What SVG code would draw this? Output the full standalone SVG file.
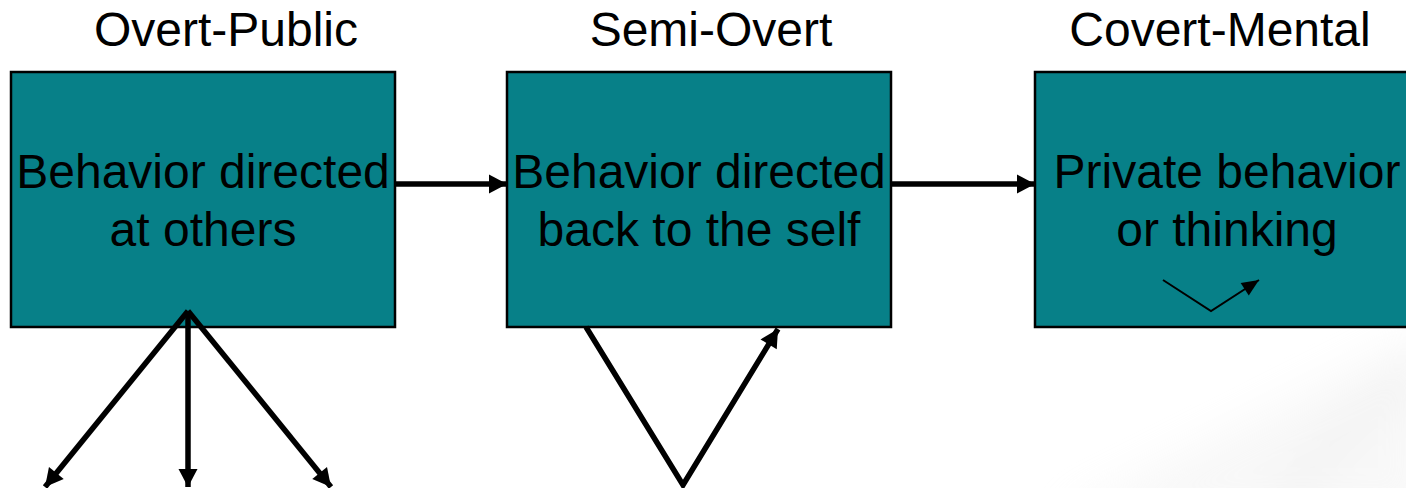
<svg xmlns="http://www.w3.org/2000/svg" width="1406" height="488" viewBox="0 0 1406 488">
  <style>
    .box { fill: #078088; stroke: #000; stroke-width: 2.5; }
    .label { font-family: "Liberation Sans", Arial, sans-serif; font-size: 48px; fill: #000; text-anchor: middle; }
    .thick { fill: none; stroke: #000; stroke-width: 5.5; stroke-linejoin: miter; }
    .thin { fill: none; stroke: #000; stroke-width: 2; }
  </style>
  <defs>
    <marker id="headBig" markerUnits="userSpaceOnUse" markerWidth="22" markerHeight="22" viewBox="0 0 22 22" refX="19" refY="11" orient="auto">
      <path d="M1,1.5 L19,11 L1,20.5 Z" fill="#000"/>
    </marker>
    <marker id="headSmall" markerUnits="userSpaceOnUse" markerWidth="20" markerHeight="20" viewBox="0 0 20 20" refX="18" refY="10" orient="auto">
      <path d="M1,2.5 L18,10 L1,17.5 Z" fill="#000"/>
    </marker>
    <filter id="soft" x="-50%" y="-50%" width="200%" height="200%">
      <feGaussianBlur stdDeviation="22"/>
    </filter>
  </defs>

  <!-- page background with faint swirl in the lower right -->
  <rect x="0" y="0" width="1406" height="488" fill="#ffffff"/>
  <g filter="url(#soft)" opacity="0.3">
    <path d="M1050,520 C1150,470 1290,400 1430,330 L1430,520 Z" fill="#e8e8e8"/>
    <path d="M1280,510 C1320,450 1370,400 1430,370" stroke="#d2d2d2" stroke-width="24" fill="none"/>
  </g>

  <!-- column headings -->
  <g id="headings">
    <text class="label" x="226" y="46">Overt-Public</text>
    <text class="label" x="711" y="46">Semi-Overt</text>
    <text class="label" x="1220" y="46">Covert-Mental</text>
  </g>

  <g id="node-overt">
    <rect class="box" x="11" y="72" width="384" height="255"/>
    <text class="label" x="203" y="188">Behavior directed</text>
    <text class="label" x="203" y="246">at others</text>
  </g>

  <g id="node-semi">
    <rect class="box" x="507" y="72" width="384" height="255"/>
    <text class="label" x="699" y="188">Behavior directed</text>
    <text class="label" x="699" y="246">back to the self</text>
  </g>

  <g id="node-covert">
    <rect class="box" x="1035" y="72" width="384" height="255"/>
    <text class="label" x="1227" y="188">Private behavior</text>
    <text class="label" x="1227" y="246">or thinking</text>
  </g>

  <g id="connectors">
    <line class="thick" x1="396" y1="184" x2="507" y2="184" marker-end="url(#headBig)"/>
    <line class="thick" x1="892" y1="184" x2="1035" y2="184" marker-end="url(#headBig)"/>

    <line class="thick" x1="188" y1="311" x2="45" y2="487" marker-end="url(#headBig)"/>
    <line class="thick" x1="188" y1="311" x2="188" y2="487" marker-end="url(#headBig)"/>
    <line class="thick" x1="188" y1="311" x2="331" y2="487" marker-end="url(#headBig)"/>

    <path class="thick" d="M586,327 L683,485 L778,329" marker-end="url(#headBig)"/>

    <path class="thin" d="M1163,280 L1211,311 L1259,280" marker-end="url(#headSmall)"/>
  </g>
</svg>
